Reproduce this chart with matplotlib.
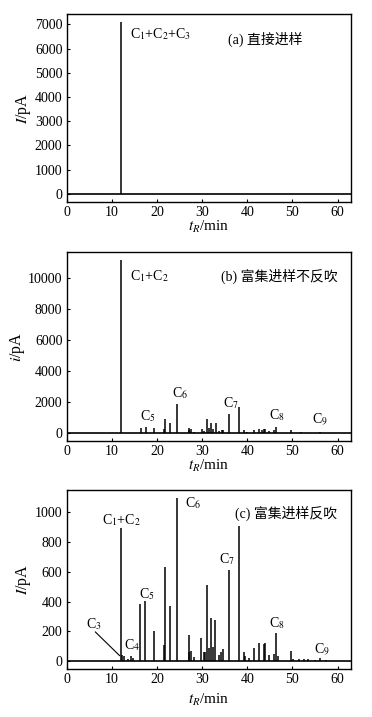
import matplotlib
matplotlib.use("Agg")
import matplotlib.pyplot as plt

plt.rcParams.update({
    "font.family": ["Liberation Serif", "Noto Sans CJK SC"],
    "mathtext.fontset": "stix",
    "font.size": 10,
    "axes.linewidth": 1.0,
    "xtick.direction": "in",
    "ytick.direction": "in",
    "xtick.major.size": 2.5,
    "ytick.major.size": 2.5,
})

FAM = ["Liberation Serif", "Noto Sans CJK SC"]

# ── Peak tables (retention time / min, height / pA) ─────────────────────────
a_t = [12.1]
a_h = [7090]

b_t = [12.0, 16.4, 17.5, 19.4, 21.5, 21.7, 23.0, 24.5, 27.0, 27.2, 27.6, 28.3,
       29.9, 30.5, 31.0, 31.6, 31.9, 32.4, 33.0, 33.8, 34.3, 34.7, 35.9, 38.2,
       39.2, 40.0, 41.4, 42.6, 43.2, 43.6, 44.0, 44.8, 46.0, 46.3, 49.7, 52.0,
       56.2]
b_h = [11120, 320, 370, 280, 200, 885, 625, 1860, 150, 320, 220, 60,
       260, 120, 865, 300, 625, 250, 650, 100, 150, 160, 1190, 1640,
       150, 60, 180, 230, 150, 250, 200, 80, 150, 370, 150, 30,
       30]

c_t = [12.0, 12.3, 12.6, 13.5, 14.2, 14.6, 16.25, 17.35, 19.35, 21.5, 21.85,
       22.9, 24.45, 27.0, 27.2, 27.5, 28.1, 29.8, 30.4, 30.7, 31.0, 31.5,
       32.0, 32.4, 32.95, 33.8, 34.2, 34.6, 35.9, 38.2, 39.2, 39.6, 40.3,
       41.5, 42.7, 43.6, 43.9, 44.8, 45.9, 46.4, 46.9, 49.7, 50.2, 51.5,
       52.5, 53.5, 55.0, 56.2, 57.5]
c_h = [895, 40, 30, 15, 34, 20, 380, 405, 202, 108, 632,
       371, 1097, 60, 175, 70, 25, 155, 60, 60, 512, 90,
       288, 97, 276, 40, 60, 80, 614, 906, 63, 30, 20,
       85, 119, 112, 119, 40, 50, 187, 30, 67, 15, 10,
       12, 10, 8, 20, 8]

# ── Figure ───────────────────────────────────────────────────────────────────
fig = plt.figure(figsize=(3.72, 7.17), dpi=100)
ax_a = fig.add_axes([0.179, 0.718, 0.765, 0.263])
ax_b = fig.add_axes([0.179, 0.385, 0.765, 0.263])
ax_c = fig.add_axes([0.179, 0.067, 0.765, 0.249])


def chrom(ax, t, h, ylim, yticks, ylabel, xpad):
    ax.axhline(0, color="k", lw=1.2, zorder=2)
    ax.vlines(t, 0, h, colors="k", lw=1.1, zorder=3)
    ax.set_xlim(0, 63)
    ax.set_ylim(*ylim)
    ax.set_xticks(range(0, 61, 10))
    ax.set_yticks(yticks)
    ax.tick_params(labelsize=10, pad=3)
    ax.set_ylabel(ylabel, fontsize=11.5, labelpad=1)
    ax.set_xlabel("$t_R$/min", fontsize=11, labelpad=xpad)


def lab(ax, x, y, s, size=10):
    ax.text(x, y, s, ha="left", va="center", fontsize=size, family=FAM)


# (a)
chrom(ax_a, a_t, a_h, (-340, 7440), range(0, 7001, 1000), "$I$/pA", 0)
lab(ax_a, 14.0, 6610, "C$_1$+C$_2$+C$_3$")
lab(ax_a, 35.8, 6370, "(a) 直接进样")

# (b)
chrom(ax_b, b_t, b_h, (-540, 11640), range(0, 10001, 2000), "$i$/pA", 0)
lab(ax_b, 14.0, 10090, "C$_1$+C$_2$")
lab(ax_b, 34.1, 10090, "(b) 富集进样不反吹")
lab(ax_b, 16.3, 1080, "C$_5$")
lab(ax_b, 23.3, 2570, "C$_6$")
lab(ax_b, 34.7, 1920, "C$_7$")
lab(ax_b, 44.9, 1120, "C$_8$")
lab(ax_b, 54.3, 840, "C$_9$")

# (c)
chrom(ax_c, c_t, c_h, (-54, 1148), range(0, 1001, 200), "$I$/pA", 4)
lab(ax_c, 7.8, 950, "C$_1$+C$_2$")
lab(ax_c, 37.2, 996, "(c) 富集进样反吹")
lab(ax_c, 26.2, 1063, "C$_6$")
lab(ax_c, 16.1, 449, "C$_5$")
lab(ax_c, 33.7, 685, "C$_7$")
lab(ax_c, 4.3, 249, "C$_3$")
lab(ax_c, 12.6, 110, "C$_4$")
lab(ax_c, 44.9, 254, "C$_8$")
lab(ax_c, 54.7, 74, "C$_9$")
ax_c.annotate("", xy=(12.2, 22), xytext=(5.9, 209),
              arrowprops=dict(arrowstyle="-", color="k", lw=0.8))

fig.savefig("out.png", dpi=100)
